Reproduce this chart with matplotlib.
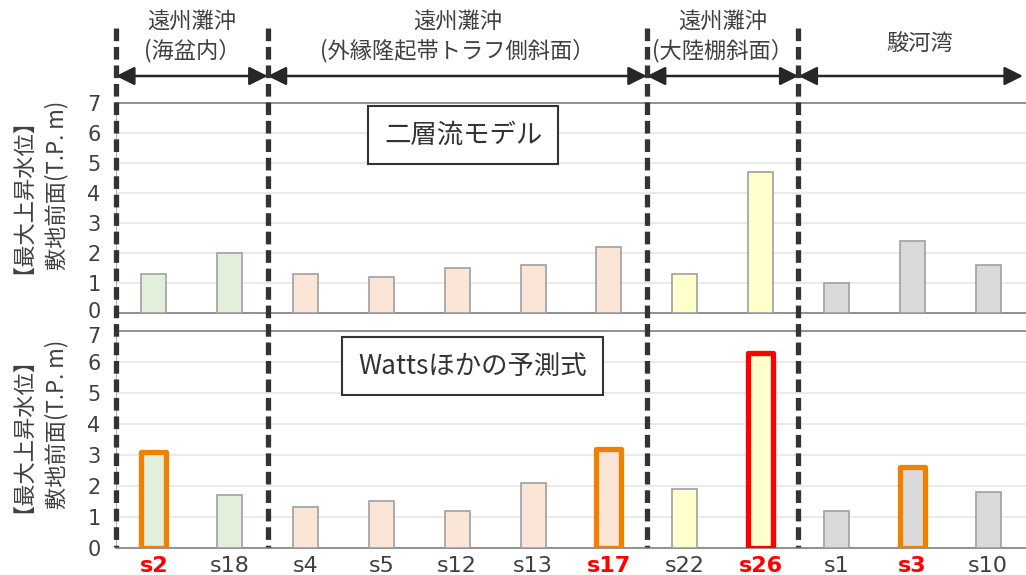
import matplotlib
matplotlib.use("Agg")
import matplotlib.pyplot as plt
import matplotlib.transforms as mtransforms
import numpy as np

# ---------------- data ----------------
stations = ['s2', 's18', 's4', 's5', 's12', 's13', 's17', 's22', 's26', 's1', 's3', 's10']
two_layer = [1.3, 2.0, 1.3, 1.2, 1.5, 1.6, 2.2, 1.3, 4.7, 1.0, 2.4, 1.6]
watts = [3.1, 1.7, 1.3, 1.5, 1.2, 2.1, 3.2, 1.9, 6.3, 1.2, 2.6, 1.8]

group_line1 = ['遠州灘沖', '遠州灘沖', '遠州灘沖', '駿河湾']
group_line2 = ['(海盆内）', '(外縁隆起帯トラフ側斜面）', '(大陸棚斜面）', '']
group_sizes = [2, 5, 2, 3]
group_fill = ['#e2efda', '#fbe5d6', '#ffffcc', '#d9d9d9']

highlight = {'s2': '#f08000', 's17': '#f08000', 's26': '#ff0000', 's3': '#f08000'}

panel_titles = ['二層流モデル', 'Wattsほかの予測式']
ylabel_lines = ['【最大上昇水位】', '敷地前面(T.P. m)']
yticks = [0, 1, 2, 3, 4, 5, 6, 7]

# ---------------- figure ----------------
W, H = 1026, 575
fig = plt.figure(figsize=(W / 100, H / 100), dpi=100)
CJK = ['Noto Sans CJK JP', 'DejaVu Sans']
TXT = '#404040'

left = 116 / W
width = 1 - left
ax1 = fig.add_axes([left, 1 - 313.3 / H, width, (313.3 - 103.3) / H])
ax2 = fig.add_axes([left, 1 - 547.7 / H, width, (547.7 - 331) / H])

x = np.arange(len(stations))
colors = []
for g, n in enumerate(group_sizes):
    colors += [group_fill[g]] * n

for ax, vals, title, hl, tpos in [
    (ax1, two_layer, panel_titles[0], False, (4.08, 5.94)),
    (ax2, watts, panel_titles[1], True, (4.2, 5.87)),
]:
    for i, (s, v) in enumerate(zip(stations, vals)):
        if hl and s in highlight:
            b = ax.bar(x[i], v, width=0.33, color=colors[i], edgecolor=highlight[s],
                       linewidth=3.8, zorder=3)
            b[0].set_joinstyle('round')
        else:
            ax.bar(x[i], v, width=0.33, color=colors[i], edgecolor='#a0a0a0',
                   linewidth=1.2, zorder=3)
    ax.set_xlim(-0.5, len(stations) - 0.5)
    ax.set_ylim(0, 7)
    ax.set_yticks(yticks)
    ax.grid(axis='y', color='#e6e6e6', linewidth=1.2, zorder=0)
    ax.set_axisbelow(True)
    ax.tick_params(axis='y', length=0, pad=11, labelsize=15, labelcolor=TXT)
    ax.tick_params(axis='x', length=0)
    for sp in ['top', 'bottom']:
        ax.spines[sp].set_color('#808080')
        ax.spines[sp].set_linewidth(1.2)
    ax.spines['left'].set_color('#b0b0b0')
    ax.spines['right'].set_visible(False)
    ax.text(tpos[0], tpos[1], title, ha='center', va='center', fontsize=19,
            family=CJK, color='#333333', zorder=6,
            bbox=dict(boxstyle='square,pad=0.6', facecolor='white',
                      edgecolor='#333333', linewidth=1.5))

ax1.set_xticks([])
ax2.set_xticks(x)
ax2.set_xticklabels(stations)
ax2.tick_params(axis='x', pad=6)
for lab, s in zip(ax2.get_xticklabels(), stations):
    lab.set_fontsize(16)
    if s in highlight:
        lab.set_color('#ff0000')
        lab.set_fontweight('bold')
    else:
        lab.set_color(TXT)

# nudge the adjacent 0 / 7 labels apart like the reference
fig.canvas.draw()
lab0 = ax1.get_yticklabels()[0]
lab0.set_transform(lab0.get_transform() + mtransforms.ScaledTranslation(0, 0.03, fig.dpi_scale_trans))
lab7 = ax2.get_yticklabels()[-1]
lab7.set_transform(lab7.get_transform() + mtransforms.ScaledTranslation(0, -0.04, fig.dpi_scale_trans))

# y labels: two rotated lines
for yc in [185, 424]:
    for base_px, line in zip([18, 63], ylabel_lines):
        fig.text(base_px / W, 1 - yc / H, line, rotation=90, rotation_mode='anchor',
                 ha='center', va='baseline', fontsize=16, family=CJK, color=TXT)

# ---------------- overlay: separators, arrows, headers ----------------
ov = fig.add_axes([left, 0, width, 1], facecolor='none')
ov.set_xlim(-0.5, len(stations) - 0.5)
ov.set_ylim(H, 0)
ov.axis('off')
ov.set_zorder(10)

bounds = np.concatenate([[0], np.cumsum(group_sizes)]) - 0.5
for b in bounds[:-1]:
    ov.plot([b, b], [28, 547], color='#333333', linewidth=3.8,
            linestyle=(0, (2.4, 1.1)), solid_capstyle='butt', clip_on=False, zorder=5)

arrow_y = 76
for g in range(len(group_sizes)):
    a = bounds[g]
    b = bounds[g + 1] if g < len(group_sizes) - 1 else bounds[g + 1] - 0.04
    ov.annotate('', xy=(b, arrow_y), xytext=(a, arrow_y), annotation_clip=False,
                arrowprops=dict(arrowstyle='<|-|>,head_length=0.7,head_width=0.35',
                                mutation_scale=16, color='#262626', linewidth=1.8,
                                shrinkA=0, shrinkB=0))
    cx = (bounds[g] + bounds[g + 1]) / 2
    if group_line2[g]:
        ov.text(cx, 21, group_line1[g], ha='center', va='center', fontsize=16,
                family=CJK, color=TXT)
        ov.text(cx, 51, group_line2[g], ha='center', va='center', fontsize=16,
                family=CJK, color=TXT)
    else:
        ov.text(cx + 0.1, 43, group_line1[g], ha='center', va='center', fontsize=16,
                family=CJK, color=TXT)

fig.savefig('out.png', dpi=100)
